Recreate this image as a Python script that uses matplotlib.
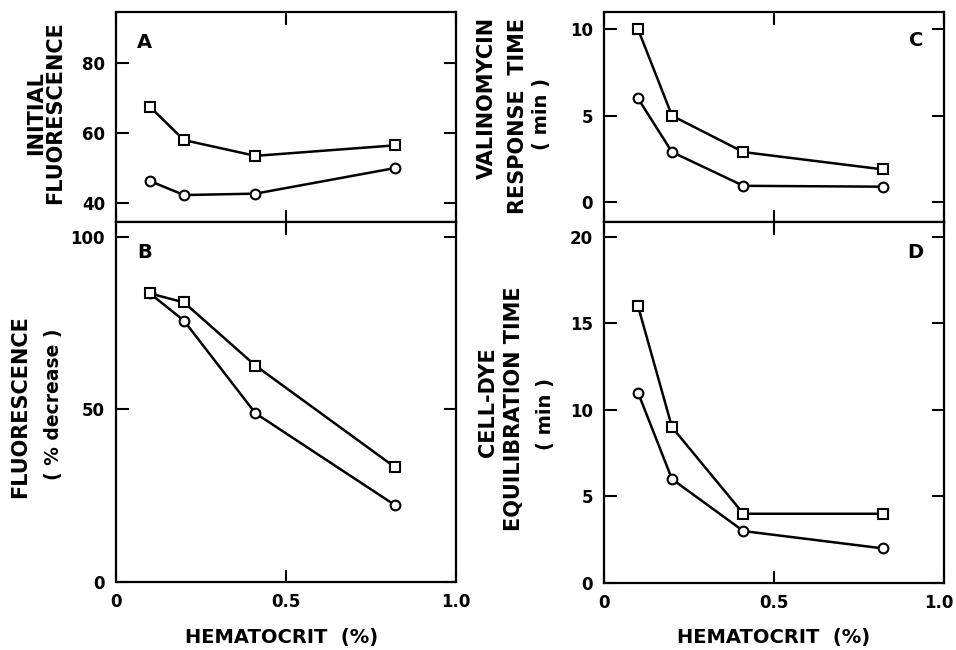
import matplotlib
matplotlib.use("Agg")
import matplotlib.pyplot as plt
import matplotlib.transforms as mtransforms

# --- Data ---
hematocrit = [0.1, 0.2, 0.41, 0.82]

init_fluor_sq = [67.5, 58.0, 53.5, 56.5]
init_fluor_ci = [46.3, 42.3, 42.7, 50.0]

fluor_decr_sq = [83.6, 81.0, 62.7, 33.3]
fluor_decr_ci = [83.6, 75.7, 48.9, 22.3]

valino_sq = [10.0, 5.0, 2.9, 1.9]
valino_ci = [6.0, 2.9, 0.95, 0.9]

equil_sq = [16.0, 9.0, 4.0, 4.0]
equil_ci = [11.0, 6.0, 3.0, 2.0]

x_ticks = [0, 0.5, 1.0]
x_tick_labels = ["0", "0.5", "1.0"]

plt.rcParams['font.family'] = ['DejaVu Sans']
plt.rcParams['font.weight'] = 'bold'

fig = plt.figure(figsize=(9.56, 6.5), dpi=100)
W, H = 956.0, 650.0


def make_axes(left, top, right, bottom):
    return fig.add_axes([left / W, 1 - bottom / H, (right - left) / W, (bottom - top) / H])


ax_a = make_axes(116, 12, 456, 222)
ax_b = make_axes(116, 222, 456, 582)
ax_c = make_axes(604, 12, 944, 222)
ax_d = make_axes(604, 222, 944, 583)


def draw(ax, sq, ci):
    ax.plot(hematocrit, ci, color='black', lw=1.8, marker='o', ms=7,
            mfc='white', mec='black', mew=1.5, zorder=3)
    ax.plot(hematocrit, sq, color='black', lw=1.8, marker='s', ms=7,
            mfc='white', mec='black', mew=1.5, zorder=4)
    ax.set_xlim(0, 1.0)
    ax.set_xticks(x_ticks)
    ax.tick_params(direction='in', top=True, right=True, length=9, width=1.5,
                   labelsize=12, pad=8)
    for sp in ax.spines.values():
        sp.set_linewidth(1.6)


draw(ax_a, init_fluor_sq, init_fluor_ci)
ax_a.set_ylim(34.6, 94.6)
ax_a.set_yticks([40, 60, 80])
ax_a.set_xticklabels([])

draw(ax_b, fluor_decr_sq, fluor_decr_ci)
ax_b.set_ylim(0, 104.3)
ax_b.set_yticks([0, 50, 100])
ax_b.set_xticklabels(x_tick_labels)

draw(ax_c, valino_sq, valino_ci)
ax_c.set_ylim(-1.14, 10.99)
ax_c.set_yticks([0, 5, 10])
ax_c.set_xticklabels([])

draw(ax_d, equil_sq, equil_ci)
ax_d.set_ylim(0, 20.85)
ax_d.set_yticks([0, 5, 10, 15, 20])
ax_d.set_xticklabels(x_tick_labels)

for ax in (ax_a, ax_b, ax_c, ax_d):
    for lab in ax.get_yticklabels() + ax.get_xticklabels():
        lab.set_fontweight('bold')

# keep the last tick label of D inside the canvas
last = ax_d.get_xticklabels()[-1]
last.set_transform(last.get_transform() +
                   mtransforms.ScaledTranslation(-5 / 100, 0, fig.dpi_scale_trans))

# panel letters
txt = dict(fontsize=14, fontweight='bold', ha='center', va='center')
fig.text(144 / W, 1 - 42 / H, "A", **txt)
fig.text(145 / W, 1 - 253 / H, "B", **txt)
fig.text(916 / W, 1 - 41 / H, "C", **txt)
fig.text(915 / W, 1 - 252 / H, "D", **txt)

# y labels
lab = dict(fontsize=15, fontweight='bold', rotation=90, ha='center', va='center')
fig.text(46 / W, 1 - 113 / H, "INITIAL\nFLUORESCENCE", linespacing=0.95,
         multialignment='center', **lab)

fig.text(20 / W, 1 - 407 / H, "FLUORESCENCE", **lab)
fig.text(54 / W, 1 - 404 / H, "( % decrease )", fontsize=13.5, fontweight='bold',
         rotation=90, ha='center', va='center')

fig.text(487 / W, 1 - 98 / H, "VALINOMYCIN", **lab)
fig.text(518 / W, 1 - 116 / H, "RESPONSE  TIME", **lab)
fig.text(542 / W, 1 - 114 / H, "( min )", fontsize=14, fontweight='bold',
         rotation=90, ha='center', va='center')

fig.text(488 / W, 1 - 402 / H, "CELL-DYE", **lab)
fig.text(514 / W, 1 - 409 / H, "EQUILIBRATION TIME", **lab)
fig.text(546 / W, 1 - 414 / H, "( min )", fontsize=14, fontweight='bold',
         rotation=90, ha='center', va='center')

# x labels
xl = dict(fontsize=14, fontweight='bold', ha='center', va='center')
fig.text(282 / W, 1 - 637 / H, "HEMATOCRIT  (%)", **xl)
fig.text(774 / W, 1 - 637 / H, "HEMATOCRIT  (%)", **xl)

fig.savefig("out.png", dpi=100)
